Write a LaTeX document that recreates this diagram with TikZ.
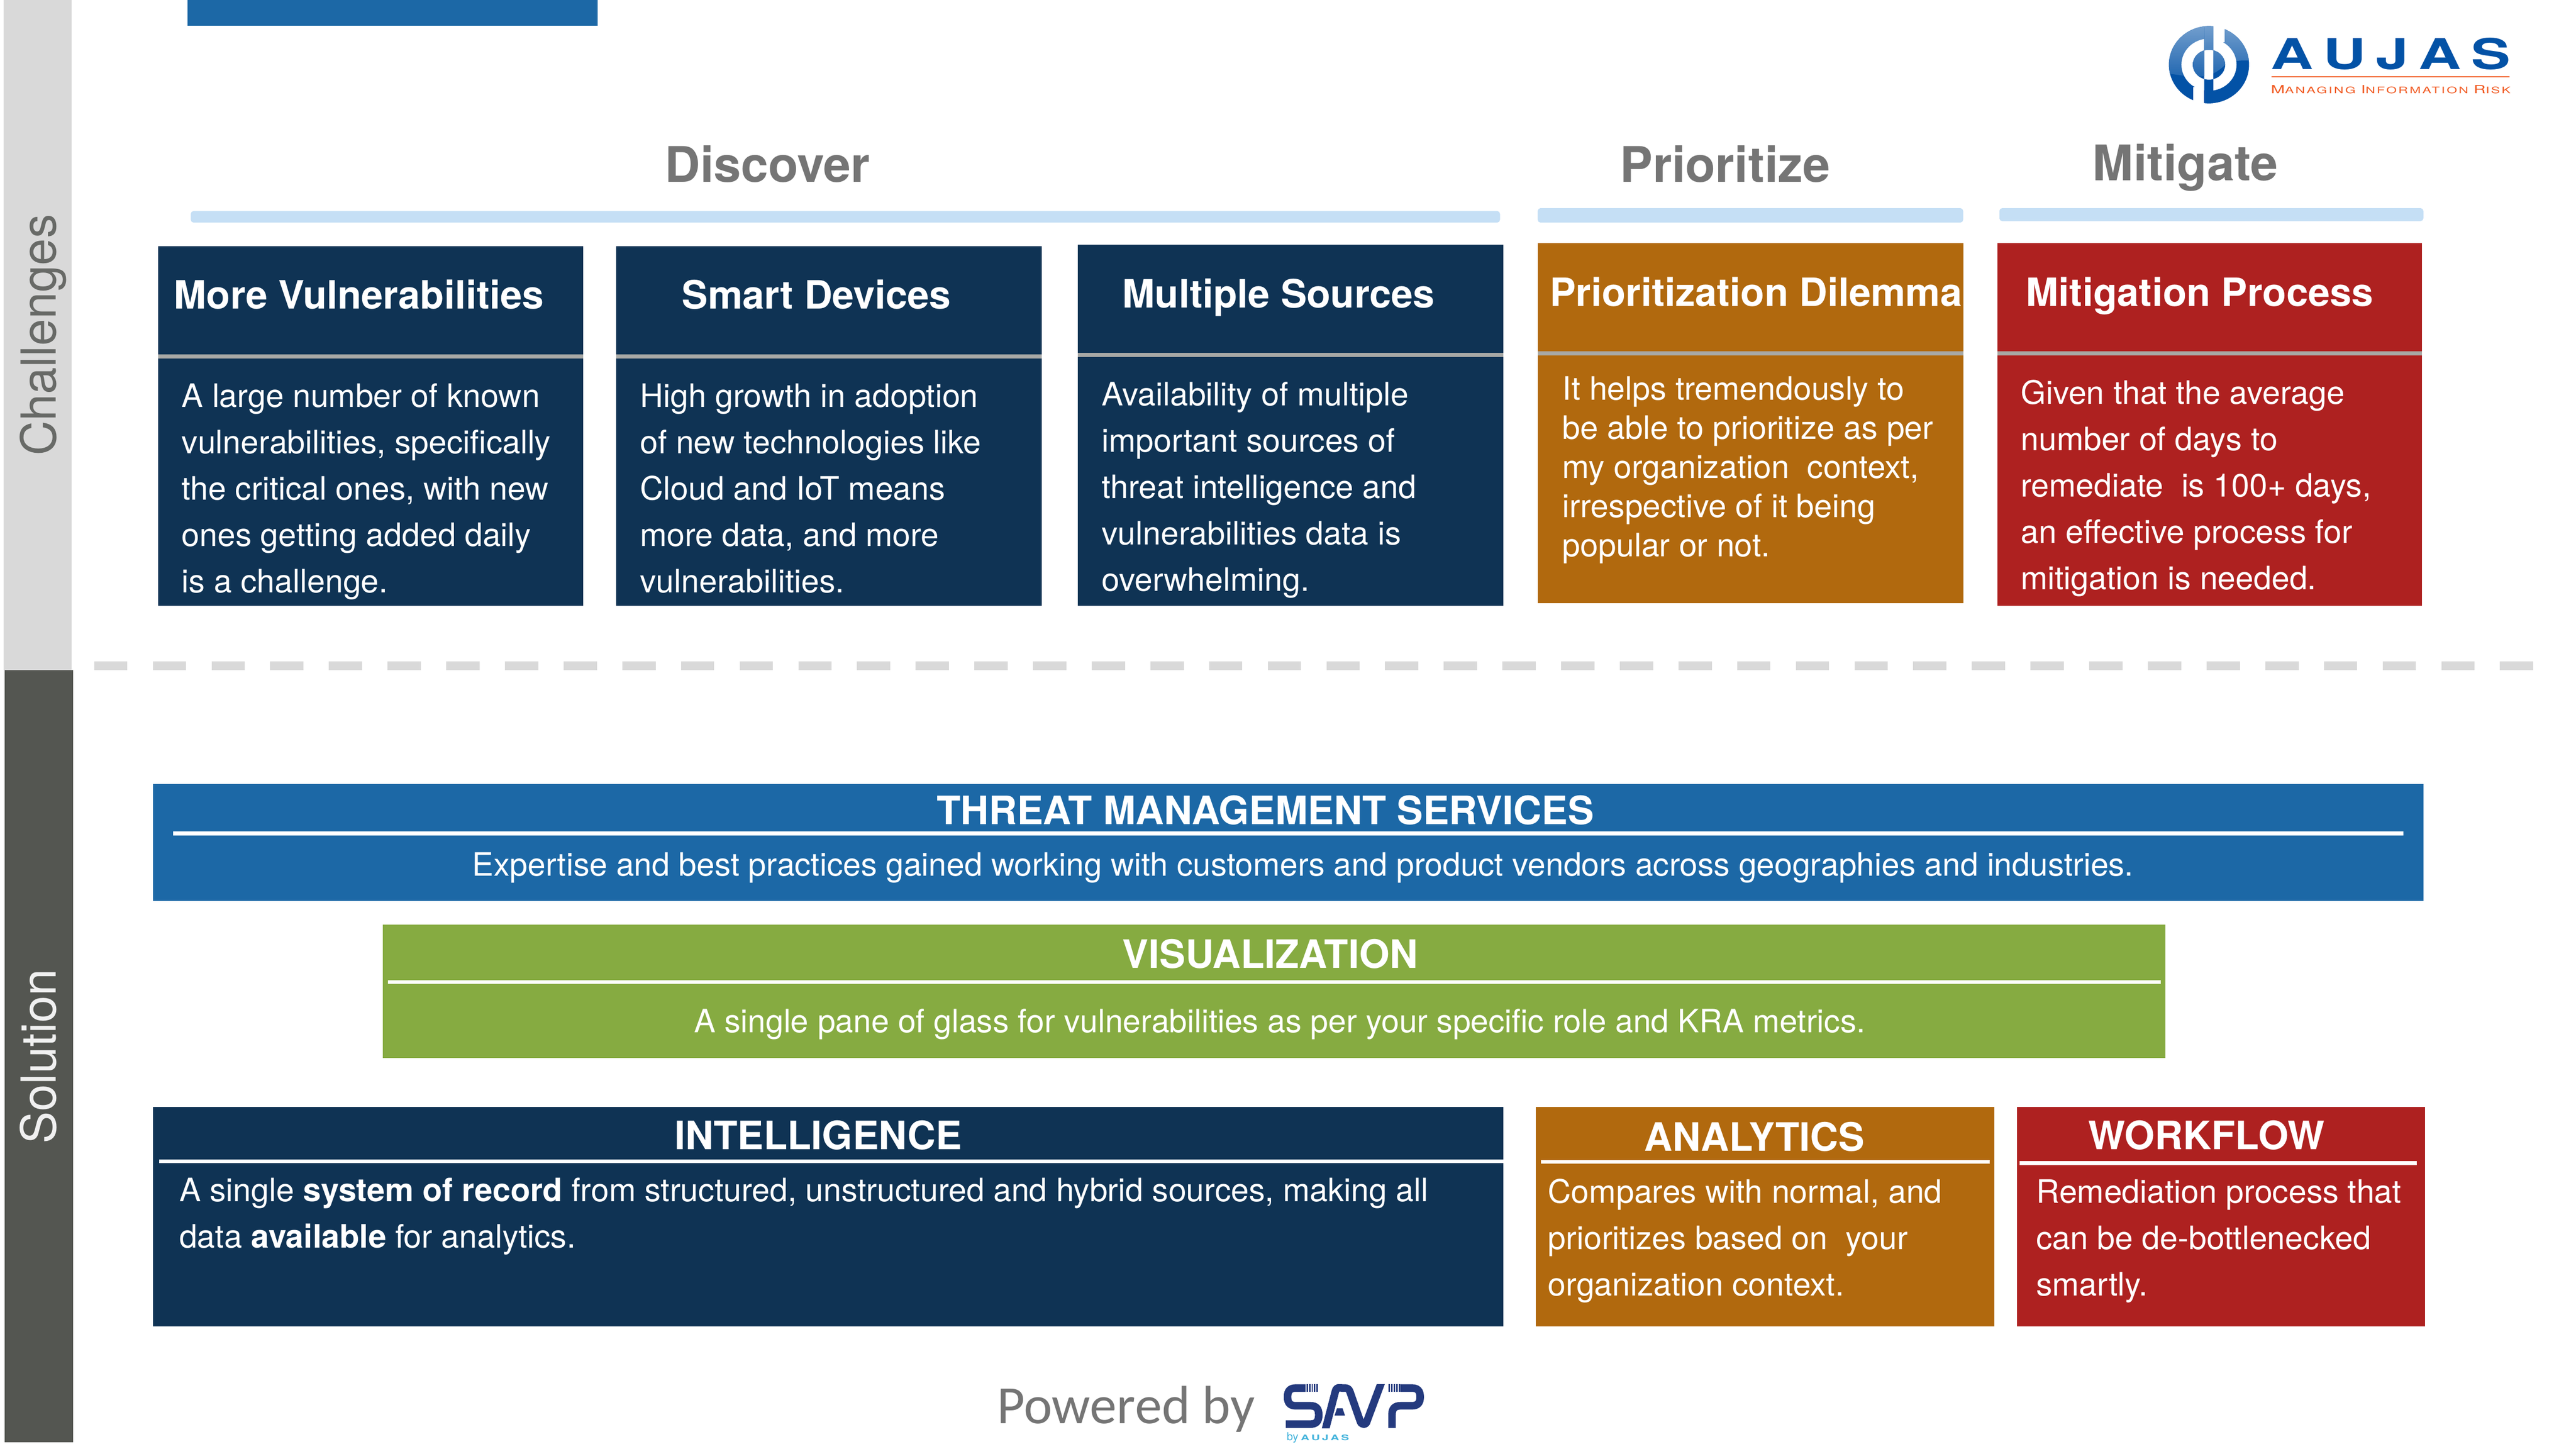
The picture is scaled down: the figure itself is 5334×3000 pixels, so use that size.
\documentclass[tikz,border=0pt]{standalone}
\usepackage{fontspec}
\usepackage{graphicx}
\setmainfont{TeX Gyre Heros}
\newfontfamily\carlito{Carlito}
\definecolor{navy}{HTML}{0F3354}
\definecolor{tmblue}{HTML}{1C68A6}
\definecolor{vgreen}{HTML}{86AB41}
\definecolor{amber}{HTML}{B1690E}
\definecolor{brick}{HTML}{AE2120}
\definecolor{palegray}{HTML}{D9D9D9}
\definecolor{slate}{HTML}{545651}
\definecolor{skybar}{HTML}{C5DFF5}
\definecolor{headgray}{HTML}{757575}
\definecolor{sidegray}{HTML}{686A67}
\definecolor{divgray}{HTML}{A8A9A6}
\definecolor{logoblue}{HTML}{0352A6}
\definecolor{logoorange}{HTML}{F15A22}
\definecolor{savpblue}{HTML}{243A7E}
\definecolor{savpcyan}{HTML}{45B4DC}
\tikzset{
  panel/.style={anchor=north west,inner sep=0pt,outer sep=0pt,draw=none},
  cardhead/.style={anchor=base west,inner sep=0pt,text=white,font=\fontsize{40.4}{48}\selectfont\bfseries},
  bandtitle/.style={anchor=base,inner sep=0pt,text=white,font=\fontsize{40.5}{48}\selectfont\bfseries},
  bandsub/.style={anchor=base,inner sep=0pt,text=white,font=\fontsize{33.3}{48}\selectfont},
  phase/.style={anchor=base,inner sep=0pt,text=headgray,font=\fontsize{50.8}{60}\selectfont\bfseries},
  sidelabel/.style={anchor=base,rotate=90,inner sep=0pt,font=\fontsize{50}{60}\selectfont},
  rulebar/.style={fill=white},
  divbar/.style={fill=divgray},
  skystroke/.style={fill=skybar,rounded corners=3pt},
  savpstroke/.style={draw=savpblue,line width=7.83pt,line join=round}
}
% panel: name, x1, y1, x2, y2, colour
\newcommand{\panelbox}[6]{%
  \pgfmathsetmacro{\pw}{(#4-#2)*0.5}\pgfmathsetmacro{\ph}{(#5-#3)*0.5}%
  \node[panel,fill=#6,minimum width=\pw pt,minimum height=\ph pt] (#1) at (#2,#3) {};}
% body text: name, x, first baseline, line skip (pt), text
\newcommand{\bodytext}[5]{%
  \node[anchor=north west,inner sep=0pt,align=left,text=white,
        font=\fontsize{33.4}{#4}\selectfont] (#1) at (#2,#3-80) {\rule{0pt}{40pt}#5};}
\newcommand{\logoshade}{%
  \fill[logoblue] (4470,40) rectangle (4680,230);
  \shade[top color=logoblue!55!white,bottom color=logoblue!88!white]
    (4480,50) -- (4670,50) -- (4670,126) .. controls (4640,124) and (4620,125) .. (4607,135)
    .. controls (4590,150) and (4575,160) .. (4549,158)
    .. controls (4525,158) and (4505,155) .. (4480,150) -- cycle;}
\begin{document}
\begin{tikzpicture}[x=0.5pt,y=-0.5pt]
\useasboundingbox (0,0) rectangle (5334,3000);
\fill[white] (0,0) rectangle (5334,3000);
% side bands
\panelbox{chalband}{7}{0}{148}{1388}{palegray}
\panelbox{solband}{10}{1388}{151}{2987}{slate}
\node[sidelabel,text=sidegray] (chal) at (116,694) {Challenges};
\node[sidelabel,text=white!94!black] (sol) at (116,2188) {Solution};
% top tab
\panelbox{toptab}{388}{0}{1238}{53}{tmblue}
% phase headings
\node[phase] (discover) at (1589,377) {Discover};
\node[phase] (prioritize) at (3572,377) {Prioritize};
\node[phase] (mitigate) at (4525,374) {Mitigate};
\fill[skystroke] (395,437) rectangle (3106,461);
\fill[skystroke] (3184,431) rectangle (4065,461);
\fill[skystroke] (4140,431) rectangle (5018,458);
% challenge cards
\panelbox{c1}{327}{510}{1208}{1255}{navy}
\panelbox{c2}{1276}{510}{2157}{1255}{navy}
\panelbox{c3}{2232}{507}{3113}{1255}{navy}
\panelbox{c4}{3184}{504}{4065}{1249}{amber}
\panelbox{c5}{4136}{504}{5015}{1255}{brick}
\fill[divbar] (327,734) rectangle (1208,742);
\fill[divbar] (1276,734) rectangle (2157,742);
\fill[divbar] (2232,731) rectangle (3113,739);
\fill[divbar] (3184,728) rectangle (4065,736);
\fill[divbar] (4136,728) rectangle (5015,736);
\node[cardhead] (h1) at (360,640) {More Vulnerabilities};
\node[cardhead] (h2) at (1412,640) {Smart Devices};
\node[cardhead] (h3) at (2324,637) {Multiple Sources};
\node[cardhead] (h4) at (3209,634) {Prioritization Dilemma};
\node[cardhead] (h5) at (4195,634) {Mitigation Process};
\bodytext{b1}{376}{843}{48}{A large number of known\\vulnerabilities, specifically\\the critical ones, with new\\ones getting added daily\\is a challenge.}
\bodytext{b2}{1325}{843}{48}{High growth in adoption\\of new technologies like\\Cloud and IoT means\\more data, and more\\vulnerabilities.}
\bodytext{b3}{2281}{840}{48}{Availability of multiple\\important sources of\\threat intelligence and\\vulnerabilities data is\\overwhelming.}
\bodytext{b4}{3235}{828}{40.5}{It helps tremendously to\\be able to prioritize as per\\my organization~ context,\\irrespective of it being\\popular or not.}
\bodytext{b5}{4184}{836}{48}{Given that the average\\number of days to\\remediate~ is 100+ days,\\an effective process for\\mitigation is needed.}
% dashed separator
\draw[palegray,line width=9pt,dash pattern=on 34.5pt off 26.25pt] (195,1379) -- (5262,1379);
% solution bands
\panelbox{threat}{317}{1624}{5018}{1866}{tmblue}
\fill[rulebar] (358,1722) rectangle (4977,1730);
\node[bandtitle] (threatt) at (2620,1707) {THREAT MANAGEMENT SERVICES};
\node[bandsub] (threats) at (2698,1814) {Expertise and best practices gained working with customers and product vendors across geographies and industries.};
\panelbox{vis}{793}{1915}{4484}{2191}{vgreen}
\fill[rulebar] (803,2030) rectangle (4474,2038);
\node[bandtitle] (vist) at (2630,2005) {VISUALIZATION};
\node[bandsub] (viss) at (2650,2138) {A single pane of glass for vulnerabilities as per your specific role and KRA metrics.};
\panelbox{intel}{317}{2292}{3113}{2747}{navy}
\fill[rulebar] (330,2401) rectangle (3113,2409);
\node[bandtitle] (intelt) at (1694,2380) {INTELLIGENCE};
\bodytext{inteltx}{371}{2488}{48}{A single \textbf{system of record} from structured, unstructured and hybrid sources, making all\\data \textbf{available} for analytics.}
\panelbox{ana}{3180}{2292}{4130}{2747}{amber}
\fill[rulebar] (3191,2402) rectangle (4120,2410);
\node[bandtitle] (anat) at (3633,2384) {ANALYTICS};
\bodytext{anatx}{3205}{2491}{48}{Compares with normal, and\\prioritizes based on~ your\\organization context.}
\panelbox{wf}{4176}{2292}{5021}{2747}{brick}
\fill[rulebar] (4182,2405) rectangle (5004,2413);
\node[bandtitle] (wft) at (4569,2380) {WORKFLOW};
\bodytext{wftx}{4216}{2491}{48}{Remediation process that\\can be de-bottlenecked\\smartly.}
% Powered by
\node[anchor=base west,inner sep=0pt,text=headgray,font=\carlito\fontsize{55.8}{64}\selectfont] (powered) at (2064,2948) {Powered by};
% SAVP logo
\begin{scope}[shift={(2640,2850)},x=0.16667pt,y=-0.16667pt]
  \draw[savpstroke] (190,74) -- (130,74) .. controls (95,74) and (78,90) .. (78,129)
     .. controls (78,168) and (95,184) .. (130,184) -- (220,184)
     .. controls (255,184) and (272,200) .. (272,241)
     .. controls (272,282) and (255,298) .. (220,298) -- (67,298);
  \foreach \xb in {197,212,227,242,258}{\fill[savpblue] (\xb,50) rectangle ++(9,47);}
  \begin{scope}
    \clip (280,50) rectangle (700,322);
    \draw[savpstroke] (306,360) -- (375,95) .. controls (385,62) and (400,74) .. (420,74)
      .. controls (440,74) and (455,70) .. (465,95) -- (528,275)
      .. controls (535,295) and (540,298) .. (550,298)
      .. controls (562,298) and (568,295) .. (573,275) -- (672,10);
  \end{scope}
  \fill[savpblue] (385,200) -- (420,200) -- (435,245) -- (370,245) -- cycle;
  \foreach \xb in {705,721,737,753,769}{\fill[savpblue] (\xb,50) rectangle ++(9,47);}
  \draw[savpstroke] (780,74) -- (850,74) .. controls (885,74) and (902,90) .. (902,129)
     .. controls (902,168) and (885,184) .. (850,184) -- (780,184)
     .. controls (745,184) and (727,200) .. (727,240) -- (727,322);
\end{scope}
\node[anchor=base west,inner sep=0pt,text=savpcyan,font=\fontsize{11.5}{13}\selectfont] (savpby) at (2664,2983) {by};
\node[anchor=base west,inner sep=0pt,text=savpcyan] (savpau) at (2693,2983) {\resizebox{50pt}{6pt}{\bfseries A\,U\,J\,A\,S}};
% AUJAS logo
\begin{scope}
  \clip (4574,134) ellipse [x radius=83,y radius=80];
  \logoshade
\end{scope}
\fill[white] (4574,134) ellipse [x radius=57,y radius=54];
\fill[white] (4583,40) rectangle (4606,88);
\fill[white] (4541,180) rectangle (4564,225);
\begin{scope}
  \clip (4574,134) ellipse [x radius=83,y radius=80];
  \clip (4574,134) ellipse [x radius=33.5,y radius=31]
        (4564,40) rectangle (4583,230);
  \logoshade
\end{scope}
\node[anchor=base west,inner sep=0pt,text=logoblue] (aujas) at (4702,143) {\resizebox{248pt}{32.5pt}{\bfseries A\,U\,J\,A\,S}};
\fill[logoorange] (4704,157.5) rectangle (5196,160.5);
\node[anchor=base west,inner sep=0pt,text=logoorange] (tagline) at (4702,194) {\resizebox{248pt}{8.5pt}{\addfontfeature{LetterSpace=12}M\fontsize{8}{9}\selectfont ANAGING \fontsize{10}{9}\selectfont I\fontsize{8}{9}\selectfont NFORMATION \fontsize{10}{9}\selectfont R\fontsize{8}{9}\selectfont ISK}};
\end{tikzpicture}
\end{document}
